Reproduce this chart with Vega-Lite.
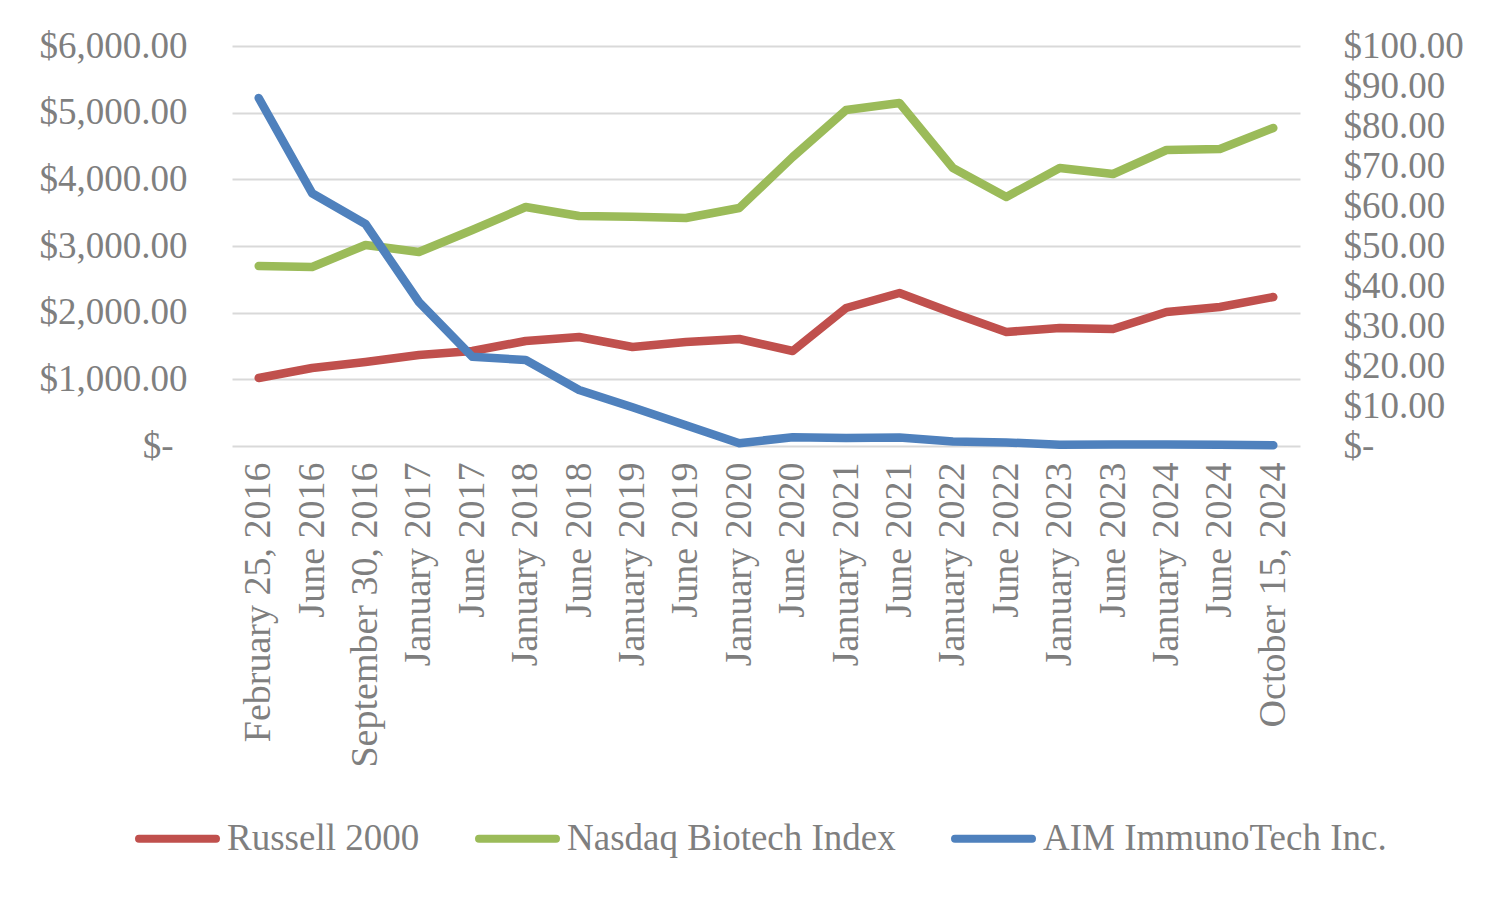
{
  "$schema": "https://vega.github.io/schema/vega-lite/v6.json",
  "width": 1068,
  "height": 400,
  "autosize": {"type": "none"},
  "padding": {"left": 232, "top": 46, "right": 203, "bottom": 457},
  "background": "white",
  "config": {"view": {"stroke": null}, "font": "Liberation Serif"},
  "data": {"values": [
    {"date": "February 25, 2016", "series": "Russell 2000", "value": 1020},
    {"date": "June 2016", "series": "Russell 2000", "value": 1170},
    {"date": "September 30, 2016", "series": "Russell 2000", "value": 1260},
    {"date": "January 2017", "series": "Russell 2000", "value": 1365},
    {"date": "June 2017", "series": "Russell 2000", "value": 1425},
    {"date": "January 2018", "series": "Russell 2000", "value": 1575},
    {"date": "June 2018", "series": "Russell 2000", "value": 1635},
    {"date": "January 2019", "series": "Russell 2000", "value": 1485},
    {"date": "June 2019", "series": "Russell 2000", "value": 1560},
    {"date": "January 2020", "series": "Russell 2000", "value": 1605},
    {"date": "June 2020", "series": "Russell 2000", "value": 1425},
    {"date": "January 2021", "series": "Russell 2000", "value": 2070},
    {"date": "June 2021", "series": "Russell 2000", "value": 2295},
    {"date": "January 2022", "series": "Russell 2000", "value": 1995},
    {"date": "June 2022", "series": "Russell 2000", "value": 1710},
    {"date": "January 2023", "series": "Russell 2000", "value": 1770},
    {"date": "June 2023", "series": "Russell 2000", "value": 1755},
    {"date": "January 2024", "series": "Russell 2000", "value": 2010},
    {"date": "June 2024", "series": "Russell 2000", "value": 2085},
    {"date": "October 15, 2024", "series": "Russell 2000", "value": 2235},
    {"date": "February 25, 2016", "series": "Nasdaq Biotech Index", "value": 2700},
    {"date": "June 2016", "series": "Nasdaq Biotech Index", "value": 2685},
    {"date": "September 30, 2016", "series": "Nasdaq Biotech Index", "value": 3015},
    {"date": "January 2017", "series": "Nasdaq Biotech Index", "value": 2910},
    {"date": "June 2017", "series": "Nasdaq Biotech Index", "value": 3240},
    {"date": "January 2018", "series": "Nasdaq Biotech Index", "value": 3585},
    {"date": "June 2018", "series": "Nasdaq Biotech Index", "value": 3450},
    {"date": "January 2019", "series": "Nasdaq Biotech Index", "value": 3440},
    {"date": "June 2019", "series": "Nasdaq Biotech Index", "value": 3420},
    {"date": "January 2020", "series": "Nasdaq Biotech Index", "value": 3570},
    {"date": "June 2020", "series": "Nasdaq Biotech Index", "value": 4335},
    {"date": "January 2021", "series": "Nasdaq Biotech Index", "value": 5040},
    {"date": "June 2021", "series": "Nasdaq Biotech Index", "value": 5145},
    {"date": "January 2022", "series": "Nasdaq Biotech Index", "value": 4170},
    {"date": "June 2022", "series": "Nasdaq Biotech Index", "value": 3735},
    {"date": "January 2023", "series": "Nasdaq Biotech Index", "value": 4170},
    {"date": "June 2023", "series": "Nasdaq Biotech Index", "value": 4080},
    {"date": "January 2024", "series": "Nasdaq Biotech Index", "value": 4440},
    {"date": "June 2024", "series": "Nasdaq Biotech Index", "value": 4455},
    {"date": "October 15, 2024", "series": "Nasdaq Biotech Index", "value": 4770},
    {"date": "February 25, 2016", "series": "AIM ImmunoTech Inc.", "value": 87.0},
    {"date": "June 2016", "series": "AIM ImmunoTech Inc.", "value": 63.2},
    {"date": "September 30, 2016", "series": "AIM ImmunoTech Inc.", "value": 55.5},
    {"date": "January 2017", "series": "AIM ImmunoTech Inc.", "value": 36.0},
    {"date": "June 2017", "series": "AIM ImmunoTech Inc.", "value": 22.3},
    {"date": "January 2018", "series": "AIM ImmunoTech Inc.", "value": 21.5},
    {"date": "June 2018", "series": "AIM ImmunoTech Inc.", "value": 14.0},
    {"date": "January 2019", "series": "AIM ImmunoTech Inc.", "value": 9.7},
    {"date": "June 2019", "series": "AIM ImmunoTech Inc.", "value": 5.2},
    {"date": "January 2020", "series": "AIM ImmunoTech Inc.", "value": 0.7},
    {"date": "June 2020", "series": "AIM ImmunoTech Inc.", "value": 2.2},
    {"date": "January 2021", "series": "AIM ImmunoTech Inc.", "value": 2.0},
    {"date": "June 2021", "series": "AIM ImmunoTech Inc.", "value": 2.1},
    {"date": "January 2022", "series": "AIM ImmunoTech Inc.", "value": 1.1},
    {"date": "June 2022", "series": "AIM ImmunoTech Inc.", "value": 0.9},
    {"date": "January 2023", "series": "AIM ImmunoTech Inc.", "value": 0.3},
    {"date": "June 2023", "series": "AIM ImmunoTech Inc.", "value": 0.4},
    {"date": "January 2024", "series": "AIM ImmunoTech Inc.", "value": 0.4},
    {"date": "June 2024", "series": "AIM ImmunoTech Inc.", "value": 0.3},
    {"date": "October 15, 2024", "series": "AIM ImmunoTech Inc.", "value": 0.2}
  ]},
  "encoding": {
    "x": {
      "field": "date", "type": "ordinal", "sort": null,
      "scale": {"type": "point", "padding": 0.5},
      "axis": {
        "title": null, "labelAngle": -90, "domain": false, "ticks": false, "grid": false,
        "labelPadding": 16, "labelFont": "Liberation Serif", "labelFontSize": 38,
        "labelColor": "#7f7f7f", "labelLimit": 0, "labelOverlap": false
      }
    }
  },
  "layer": [
    {
      "transform": [{"filter": "datum.series != 'AIM ImmunoTech Inc.'"}],
      "mark": {"type": "line", "strokeWidth": 8.5, "strokeCap": "round", "strokeJoin": "round"},
      "encoding": {
        "y": {
          "field": "value", "type": "quantitative",
          "scale": {"domain": [0, 6000], "nice": false, "zero": true},
          "axis": {
            "title": null, "domain": false, "ticks": false, "grid": true,
            "gridColor": "#d9d9d9", "gridWidth": 2,
            "values": [0, 1000, 2000, 3000, 4000, 5000, 6000],
            "labelExpr": "datum.value == 0 ? '$-' : format(datum.value, '$,.2f')",
            "labelFont": "Liberation Serif", "labelFontSize": 37, "labelColor": "#7f7f7f",
            "labelPadding": {"condition": {"test": "datum.value == 0", "value": 59}, "value": 45},
            "labelOverlap": false, "labelLimit": 0
          }
        },
        "color": {
          "field": "series", "type": "nominal",
          "scale": {
            "domain": ["Russell 2000", "Nasdaq Biotech Index", "AIM ImmunoTech Inc."],
            "range": ["#C0504D", "#9BBB59", "#4F81BD"]
          },
          "legend": {
            "title": null, "orient": "none", "legendX": -97, "legendY": 750,
            "direction": "horizontal", "symbolType": "stroke", "symbolSize": 5929,
            "symbolStrokeWidth": 8, "labelFont": "Liberation Serif", "labelFontSize": 37,
            "labelColor": "#7f7f7f", "labelOffset": 7, "columnPadding": 43, "labelLimit": 0,
            "encode": {"symbols": {"update": {"strokeCap": {"value": "round"}}}}
          }
        }
      }
    },
    {
      "transform": [{"filter": "datum.series == 'AIM ImmunoTech Inc.'"}],
      "mark": {"type": "line", "strokeWidth": 8.5, "strokeCap": "round", "strokeJoin": "round"},
      "encoding": {
        "y": {
          "field": "value", "type": "quantitative",
          "scale": {"domain": [0, 100], "nice": false, "zero": true},
          "axis": {
            "title": null, "orient": "right", "domain": false, "ticks": false, "grid": false,
            "values": [0, 10, 20, 30, 40, 50, 60, 70, 80, 90, 100],
            "labelExpr": "datum.value == 0 ? '$-' : format(datum.value, '$,.2f')",
            "labelFont": "Liberation Serif", "labelFontSize": 37, "labelColor": "#7f7f7f",
            "labelPadding": 43, "labelOverlap": false, "labelLimit": 0
          }
        },
        "color": {
          "field": "series", "type": "nominal",
          "scale": {
            "domain": ["Russell 2000", "Nasdaq Biotech Index", "AIM ImmunoTech Inc."],
            "range": ["#C0504D", "#9BBB59", "#4F81BD"]
          },
          "legend": {
            "title": null, "orient": "none", "legendX": -97, "legendY": 750,
            "direction": "horizontal", "symbolType": "stroke", "symbolSize": 5929,
            "symbolStrokeWidth": 8, "labelFont": "Liberation Serif", "labelFontSize": 37,
            "labelColor": "#7f7f7f", "labelOffset": 7, "columnPadding": 43, "labelLimit": 0,
            "encode": {"symbols": {"update": {"strokeCap": {"value": "round"}}}}
          }
        }
      }
    }
  ],
  "resolve": {"scale": {"y": "independent"}}
}
